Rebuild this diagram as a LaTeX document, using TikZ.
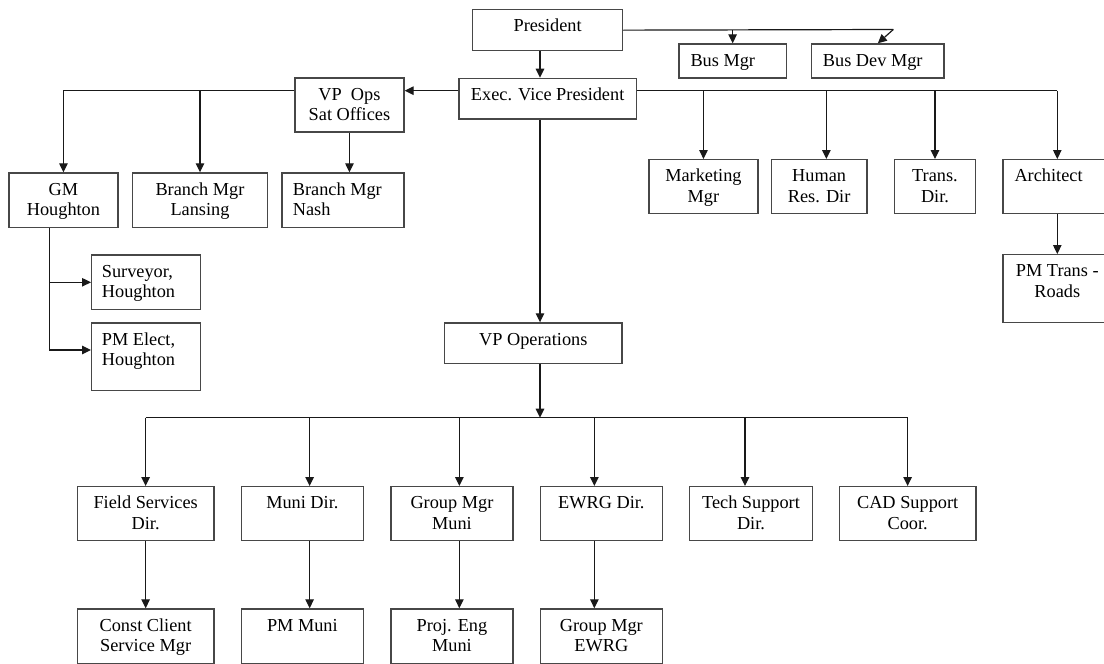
\documentclass[tikz,border=0pt]{standalone}
\usepackage{fontspec}
\setmainfont{Liberation Serif}
\usetikzlibrary{arrows.meta,calc}
\newcommand{\fs}{\fontsize{18.3}{20.7}\selectfont}
\newcommand{\ls}{\rule{0pt}{14pt}}
\newcommand{\orgbox}[5]{\node[box, minimum width={(#4-#2)*1pt}, minimum height={(#5-#3)*1pt}] (#1) at (#2,#3) {};}
\newcommand{\ctext}[2]{\node[lbl] (#1-t) at ($(#1.north)+(0,8.7)$) {\ls #2};}
\newcommand{\ltext}[3]{\node[lbll] (#1-t) at ($(#1.north west)+(#2,8.7)$) {\ls #3};}
\tikzset{
  box/.style={draw=black!72, line width=1.3pt, fill=white, inner sep=0pt, anchor=north west},
  lbl/.style={inner sep=0pt, anchor=north, align=center, font=\fs},
  lbll/.style={inner sep=0pt, anchor=north west, align=left, font=\fs},
  conn/.style={draw=black!90, line width=1.2pt},
  arr/.style={conn, -{Triangle[length=9pt,width=8.5pt]}},
}
\begin{document}
\begin{tikzpicture}[x=1pt,y=-1pt]
\clip (0,0) rectangle (1104,664);
\fill[white] (0,0) rectangle (1104,664);
% boxes
\orgbox{pres}{472}{9}{622}{50}
\orgbox{busmgr}{678.3}{43.3}{785.7}{77.3}
\orgbox{busdev}{811}{43.3}{943.3}{77.3}
\orgbox{evp}{458.3}{77.7}{635.7}{118.3}
\orgbox{vpops}{294.3}{77.3}{403.3}{131.3}
\orgbox{gm}{8.3}{172.3}{117.3}{227}
\orgbox{lansing}{131.7}{172.3}{267}{227}
\orgbox{nash}{281.3}{172.3}{403.3}{227}
\orgbox{surv}{91}{254.3}{200}{309}
\orgbox{pmelect}{91}{322.3}{200}{390}
\orgbox{mkt}{648.3}{159}{757.3}{213}
\orgbox{hr}{770.7}{159}{866.3}{213}
\orgbox{trans}{893.7}{159}{975}{213}
\orgbox{arch}{1002.3}{159}{1111}{213}
\orgbox{pmtrans}{1002.3}{254}{1111}{322}
\orgbox{vpop}{444}{322.3}{621.3}{362.7}
\orgbox{field}{76.7}{486}{213.3}{540}
\orgbox{muni}{240.7}{486}{362.7}{540}
\orgbox{gmm}{390.3}{486}{512.3}{540}
\orgbox{ewrg}{539.7}{486}{661.7}{540}
\orgbox{tech}{689}{486}{811.7}{540}
\orgbox{cad}{838.7}{486}{975.3}{540}
\orgbox{const}{76.7}{608.3}{213.3}{663.3}
\orgbox{pmmuni}{240.7}{608.3}{362.7}{663.3}
\orgbox{proj}{390.3}{608.3}{512.3}{663.3}
\orgbox{gmewrg}{539.7}{608.3}{661.7}{663.3}
% texts
\ctext{pres}{President}
\ltext{busmgr}{12}{Bus Mgr}
\ltext{busdev}{11.7}{Bus Dev Mgr}
\ctext{evp}{Exec. Vice President}
\ctext{vpops}{VP\ \ Ops\\Sat Offices}
\ctext{gm}{GM\\Houghton}
\ctext{lansing}{Branch Mgr\\Lansing}
\ltext{nash}{11.4}{Branch Mgr\\Nash}
\ltext{surv}{10.7}{Surveyor,\\Houghton}
\ltext{pmelect}{10.7}{PM Elect,\\Houghton}
\ctext{mkt}{Marketing\\Mgr}
\ctext{hr}{Human\\Res. Dir}
\ctext{trans}{Trans.\\Dir.}
\ltext{arch}{12}{Architect}
\ctext{pmtrans}{PM Trans -\\Roads}
\ctext{vpop}{VP Operations}
\ctext{field}{Field Services\\Dir.}
\ctext{muni}{Muni Dir.}
\ctext{gmm}{Group Mgr\\Muni}
\ctext{ewrg}{EWRG Dir.}
\ctext{tech}{Tech Support\\Dir.}
\ctext{cad}{CAD Support\\Coor.}
\ctext{const}{Const Client\\Service Mgr}
\ctext{pmmuni}{PM Muni}
\ctext{proj}{Proj. Eng\\Muni}
\ctext{gmewrg}{Group Mgr\\EWRG}
% helper coordinates
\coordinate (spine) at (540,0);
\coordinate (hline) at (0,90.7);
\coordinate (bline) at (0,417.7);
\coordinate (pturn) at (893.3,29.5);
\coordinate (gmx) at (49.3,350);
% connectors
\draw[arr] (pres.south -| spine) -- (evp.north -| spine);
\draw[conn] (pres.east) -- (pturn);
\draw[arr] (pturn) -- (busdev.north);
\draw[arr] (busmgr.north |- pres.east) -- (busmgr.north);
\draw[arr] (evp.west |- hline) -- (vpops.east |- hline);
\draw[arr] (vpops.west |- hline) -- (gm.north |- hline) -- (gm.north);
\draw[arr] (lansing.north |- hline) -- (lansing.north);
\draw[arr] (vpops.south) -- (nash.north -| vpops.south);
\draw[arr] (gm.south -| gmx) -- (gmx) -- (gmx -| pmelect.west);
\draw[arr] (surv.west -| gmx) -- (surv.west);
\draw[conn] (evp.east |- hline) -- (arch.north |- hline);
\draw[arr] (mkt.north |- hline) -- (mkt.north);
\draw[arr] ([xshift=7.2pt]hr.north |- hline) -- ([xshift=7.2pt]hr.north);
\draw[arr] (trans.north |- hline) -- (trans.north);
\draw[arr] (arch.north |- hline) -- (arch.north);
\draw[arr] (arch.south) -- (pmtrans.north);
\draw[arr] (evp.south -| spine) -- (vpop.north -| spine);
\draw[arr] (vpop.south -| spine) -- (bline -| spine);
\draw[conn] (field.north |- bline) -- (cad.north |- bline);
\draw[arr] (field.north |- bline) -- (field.north);
\draw[arr] ([xshift=7.3pt]muni.north |- bline) -- ([xshift=7.3pt]muni.north);
\draw[arr] ([xshift=7.4pt]gmm.north |- bline) -- ([xshift=7.4pt]gmm.north);
\draw[arr] ([xshift=-7pt]ewrg.north |- bline) -- ([xshift=-7pt]ewrg.north);
\draw[arr] ([xshift=-6pt]tech.north |- bline) -- ([xshift=-6pt]tech.north);
\draw[arr] (cad.north |- bline) -- (cad.north);
\draw[arr] (field.south) -- (const.north);
\draw[arr] ([xshift=7.3pt]muni.south) -- ([xshift=7.3pt]pmmuni.north);
\draw[arr] ([xshift=7.4pt]gmm.south) -- ([xshift=7.4pt]proj.north);
\draw[arr] ([xshift=-7pt]ewrg.south) -- ([xshift=-7pt]gmewrg.north);
\end{tikzpicture}
\end{document}
